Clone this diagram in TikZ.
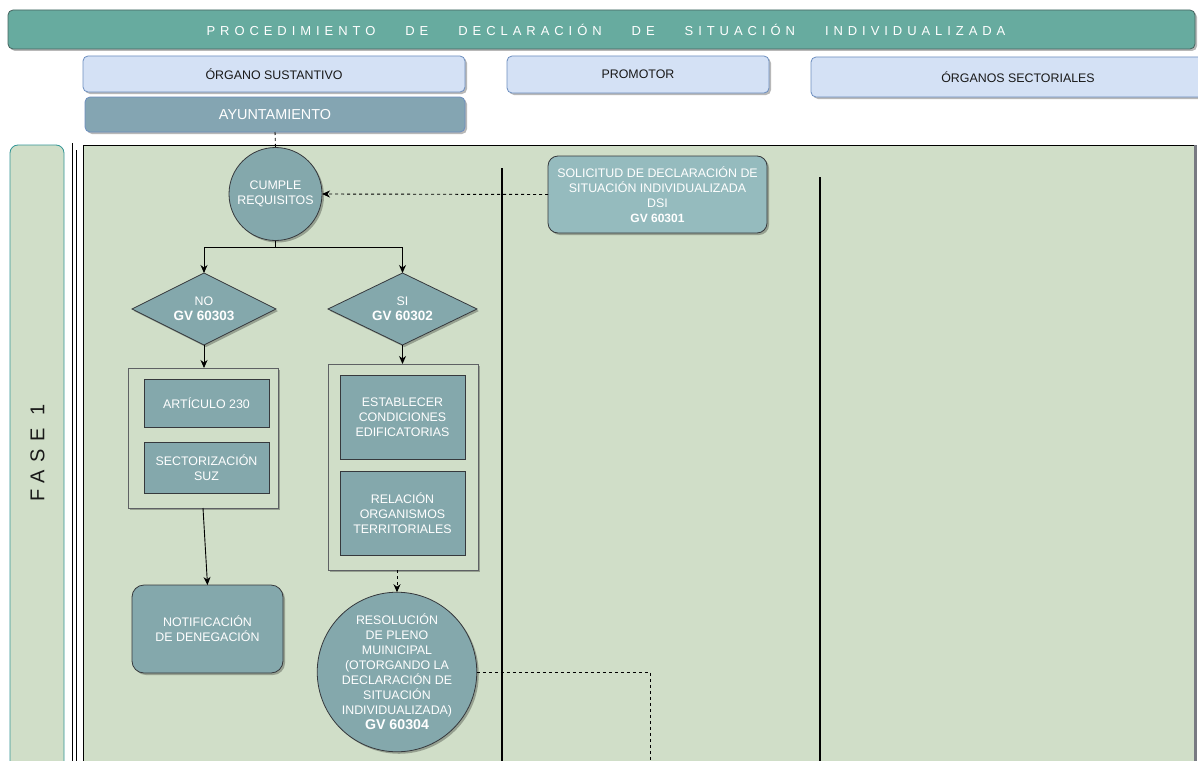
\documentclass[tikz,border=0pt]{standalone}
\usepackage{fontspec}
\setmainfont{Liberation Sans}
\usetikzlibrary{shapes.geometric,arrows.meta,shadows}
\definecolor{titlefill}{RGB}{103,171,159}
\definecolor{titledraw}{RGB}{70,100,95}
\definecolor{hdrfill}{RGB}{212,225,245}
\definecolor{hdrdraw}{RGB}{108,142,191}
\definecolor{aytofill}{RGB}{132,165,178}
\definecolor{bgfill}{RGB}{208,222,200}
\definecolor{shapefill}{RGB}{132,168,172}
\definecolor{solfill}{RGB}{149,187,190}
\definecolor{shapedraw}{RGB}{54,57,61}
\definecolor{lanedraw}{RGB}{50,150,150}
\definecolor{txtdark}{RGB}{25,25,25}
\definecolor{rightedge}{RGB}{120,122,130}
\newcommand{\wsep}{\hspace{30pt}}
\newcommand{\gvA}[1]{{\fontsize{13.5pt}{15pt}\selectfont\bfseries #1}}
\begin{document}
\begin{tikzpicture}[x=1pt,y=-1pt,
  every node/.style={inner sep=0pt,outer sep=0pt},
  shad/.style={drop shadow={shadow xshift=2pt,shadow yshift=-2pt,opacity=0.28,fill=black}},
  fnt/.style={font=\fontsize{12.4pt}{15pt}\selectfont},
  titlebox/.style={draw=titledraw,fill=titlefill,rounded corners=5pt,line width=0.8pt,shad},
  titletext/.style={text=white,font=\fontsize{13pt}{15pt}\selectfont\addfontfeatures{LetterSpace=38}},
  hdr/.style={draw=hdrdraw,fill=hdrfill,rounded corners=5pt,line width=0.8pt,text=txtdark,fnt,shad},
  aytobox/.style={draw=hdrdraw,fill=aytofill,rounded corners=5pt,line width=0.8pt,text=white,shad,
    font=\fontsize{14.4pt}{16pt}\selectfont},
  lanebox/.style={draw=lanedraw,fill=bgfill,rounded corners=8pt,line width=0.8pt},
  circ/.style={circle,draw=shapedraw,fill=shapefill,line width=0.8pt,text=white,align=center,fnt,shad},
  solbox/.style={draw=shapedraw,fill=solfill,rounded corners=10pt,line width=0.8pt,text=white,align=center,fnt,shad},
  dia/.style={diamond,shape aspect=2,draw=shapedraw,fill=shapefill,line width=0.8pt,text=white,align=center,fnt,shad},
  grp/.style={draw=shapedraw!80,fill=bgfill,line width=0.8pt,shad},
  proc/.style={draw=shapedraw,fill=shapefill,line width=0.8pt,text=white,align=center,fnt},
  rproc/.style={draw=shapedraw,fill=shapefill,rounded corners=12pt,line width=0.8pt,text=white,align=center,fnt,shad},
  conn/.style={line width=0.9pt,black},
  arr/.style={-{Stealth[length=8pt,width=7pt,inset=2.5pt]}},
  dsh/.style={dash pattern=on 3pt off 3pt}
]
\useasboundingbox (0,0) rectangle (1198,760);
\clip (0,0) rectangle (1198,760);
\fill[white] (0,0) rectangle (1198,760);

% title and headers
\node[titlebox,minimum width=1187pt,minimum height=39pt] (title) at (601.5,29.5) {};
\node[titletext] (titleT) at (606,30)
  {PROCEDIMIENTO\wsep DE\wsep DECLARACIÓN\wsep DE\wsep SITUACIÓN\wsep INDIVIDUALIZADA};
\node[hdr,minimum width=382pt,minimum height=36pt] (hOS) at (274,74) {ÓRGANO SUSTANTIVO};
\node[hdr,minimum width=262pt,minimum height=37pt] (hPR) at (638,74.5) {PROMOTOR};
\node[hdr,minimum width=414pt,minimum height=40pt] (hSE) at (1018,77) {ÓRGANOS SECTORIALES};
\node[aytobox,minimum width=380pt,minimum height=35pt] (ayto) at (275,114.5) {AYUNTAMIENTO};

% phase lane
\node[lanebox,minimum width=54pt,minimum height=660pt] (fase) at (37,475) {};
\node[rotate=90,text=txtdark,font=\fontsize{20pt}{22pt}\selectfont\addfontfeatures{LetterSpace=36}] (faseT) at (37.5,453) {FASE 1};

% pool background
\fill[bgfill] (83,145) rectangle (1194,800);
\draw[line width=0.9pt] (83,800) -- (83,145.5) -- (1194,145.5);
\draw[rightedge,line width=3pt] (1195.5,145) -- (1195.5,800);
\draw[line width=1.4pt] (72.5,143) -- (72.5,800);
\draw[line width=1.1pt] (76.5,150) -- (76.5,800);
\draw[line width=1.8pt] (502,168) -- (502,800);
\draw[line width=1.8pt] (820,177) -- (820,800);

% shapes
\node[circ,minimum size=93pt] (cumple) at (275.5,194) {CUMPLE\\REQUISITOS};
\node[solbox,minimum width=219pt,minimum height=77pt] (solic) at (657.5,194.5)
  {SOLICITUD DE DECLARACIÓN DE\\SITUACIÓN INDIVIDUALIZADA\\DSI\\{\fontsize{12pt}{15pt}\selectfont\bfseries GV 60301}};
\node[dia,minimum width=144pt,minimum height=72pt] (no) at (204,309) {NO\\\gvA{GV 60303}};
\node[dia,minimum width=149pt,minimum height=72pt] (si) at (402.5,309) {SI\\\gvA{GV 60302}};
\node[grp,minimum width=150pt,minimum height=140pt] (grpL) at (203,438) {};
\node[proc,minimum width=125pt,minimum height=48pt] (art) at (206.5,403) {ARTÍCULO 230};
\node[proc,minimum width=125pt,minimum height=51pt] (sect) at (206.5,467.5) {SECTORIZACIÓN\\SUZ};
\node[grp,minimum width=150pt,minimum height=206pt] (grpR) at (403,467) {};
\node[proc,minimum width=125pt,minimum height=84pt] (est) at (402.5,417) {ESTABLECER\\CONDICIONES\\EDIFICATORIAS};
\node[proc,minimum width=125pt,minimum height=84pt] (rel) at (402.5,513) {RELACIÓN\\ORGANISMOS\\TERRITORIALES};
\node[rproc,minimum width=151pt,minimum height=88pt] (notif) at (207.5,629) {NOTIFICACIÓN\\DE DENEGACIÓN};
\node[circ,minimum size=154pt] (resol) at (397,672)
  {RESOLUCIÓN\\DE PLENO\\MUINICIPAL\\(OTORGANDO LA\\DECLARACIÓN DE\\SITUACIÓN\\INDIVIDUALIZADA)\\{\fontsize{14.2pt}{15pt}\selectfont\bfseries GV 60304}};
\coordinate (dsiEnd) at (650,800);

% connectors
\draw[conn,dsh] (ayto.south) -- (cumple.north);
\draw[conn,dsh,arr] (solic.west) -- (cumple.east);
\draw[conn,arr] (cumple.south) -- ++(0,7) -| (no.north);
\draw[conn,arr] (cumple.south) -- ++(0,7) -| (si.north);
\draw[conn,arr] (no.south) -- (no.south |- grpL.north);
\draw[conn,arr] (si.south) -- (si.south |- grpR.north);
\draw[conn,arr] (grpL.south) -- (notif.north);
\draw[conn,dsh,arr] (resol.north |- grpR.south) -- (resol.north);
\draw[conn,dsh] (resol.east) -| (dsiEnd);
\end{tikzpicture}
\end{document}
